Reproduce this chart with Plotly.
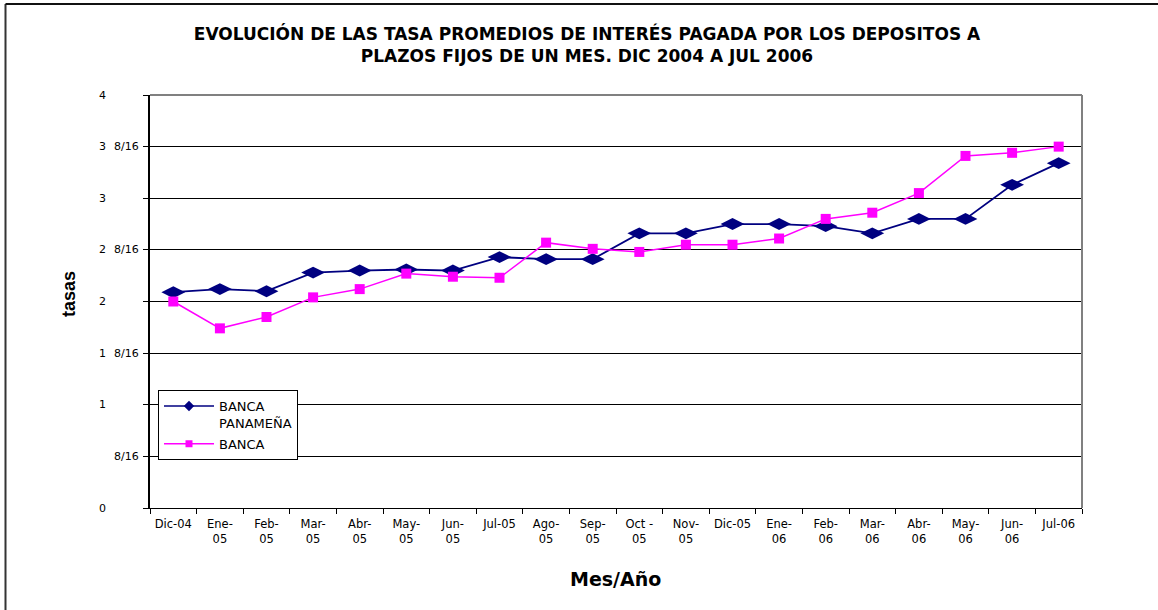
import plotly.graph_objects as go

# ---- data ----
months = ["Dic-04", "Ene-05", "Feb-05", "Mar-05", "Abr-05", "May-05", "Jun-05", "Jul-05",
          "Ago-05", "Sep-05", "Oct-05", "Nov-05", "Dic-05", "Ene-06", "Feb-06", "Mar-06",
          "Abr-06", "May-06", "Jun-06", "Jul-06"]
month_labels = ["Dic-04", "Ene-<br>05", "Feb-<br>05", "Mar-<br>05", "Abr-<br>05", "May-<br>05",
                "Jun-<br>05", "Jul-05", "Ago-<br>05", "Sep-<br>05", "Oct -<br>05", "Nov-<br>05",
                "Dic-05", "Ene-<br>06", "Feb-<br>06", "Mar-<br>06", "Abr-<br>06", "May-<br>06",
                "Jun-<br>06", "Jul-06"]
banca_panamena = [2.09, 2.12, 2.10, 2.28, 2.30, 2.31, 2.30, 2.43, 2.41, 2.41,
                  2.66, 2.66, 2.75, 2.75, 2.73, 2.66, 2.80, 2.80, 3.13, 3.34]
banca = [2.00, 1.74, 1.85, 2.04, 2.12, 2.27, 2.24, 2.23, 2.57, 2.51,
         2.48, 2.55, 2.55, 2.61, 2.80, 2.86, 3.05, 3.41, 3.44, 3.50]
series_names = ["BANCA<br>PANAMEÑA", "BANCA"]
y_tick_vals = [0, 0.5, 1, 1.5, 2, 2.5, 3, 3.5, 4]
y_tick_int = ["0", "", "1", "1", "2", "2", "3", "3", "4"]
y_tick_frac = ["", "8/16", "", "8/16", "", "8/16", "", "8/16", ""]

title_text = ("EVOLUCIÓN DE LAS TASA PROMEDIOS DE INTERÉS PAGADA POR LOS DEPOSITOS A<br>"
              "PLAZOS FIJOS DE UN MES. DIC 2004 A JUL 2006")

NAVY = "#000080"
MAGENTA = "#FF00FF"

W, H = 1158, 610
L, R, T, B = 150, 76, 95, 102
PW, PH = W - L - R, H - T - B


def px_x(p):
    return (p - L) / PW


def px_y(p):
    return (H - B - p) / PH


fig = go.Figure()
fig.add_trace(go.Scatter(x=months, y=banca_panamena, mode="lines+markers", showlegend=False,
                         line=dict(color=NAVY, width=1.8),
                         marker=dict(symbol="diamond-wide", size=17, color=NAVY)))
fig.add_trace(go.Scatter(x=months, y=banca, mode="lines+markers", showlegend=False,
                         line=dict(color=MAGENTA, width=1.5),
                         marker=dict(symbol="square", size=10, color=MAGENTA)))
# legend entries with small markers
fig.add_trace(go.Scatter(x=[None], y=[None], mode="lines+markers", name=series_names[0],
                         legendgroup="a",
                         line=dict(color=NAVY, width=1.5),
                         marker=dict(symbol="diamond", size=8, color=NAVY)))
fig.add_trace(go.Scatter(x=[None], y=[None], mode="lines+markers", name=series_names[1],
                         legendgroup="b",
                         line=dict(color=MAGENTA, width=1.5),
                         marker=dict(symbol="square", size=7, color=MAGENTA)))

annotations = []
for v, ti, tf in zip(y_tick_vals, y_tick_int, y_tick_frac):
    if ti:
        annotations.append(dict(x=px_x(97), y=v, xref="paper", yref="y", text=ti,
                                showarrow=False, xanchor="left", yanchor="middle",
                                font=dict(family="DejaVu Sans", size=11, color="black")))
    if tf:
        annotations.append(dict(x=px_x(141), y=v, xref="paper", yref="y", text=tf,
                                showarrow=False, xanchor="right", yanchor="middle",
                                font=dict(family="DejaVu Sans", size=11, color="black")))
annotations.append(dict(x=px_x(69), y=px_y(294), xref="paper", yref="paper", text="<b>tasas</b>",
                        textangle=-90, showarrow=False, xanchor="center", yanchor="middle",
                        font=dict(family="Liberation Sans, Arial", size=18, color="black")))
annotations.append(dict(x=px_x(615), y=px_y(579), xref="paper", yref="paper", text="<b>Mes/Año</b>",
                        showarrow=False, xanchor="center", yanchor="middle",
                        font=dict(family="DejaVu Sans", size=19, color="black")))

shapes = [
    # gray plot-area border (top and right)
    dict(type="line", xref="paper", yref="paper", x0=0, x1=1, y0=1, y1=1,
         line=dict(color="#808080", width=2)),
    dict(type="line", xref="paper", yref="paper", x0=1, x1=1, y0=0, y1=1,
         line=dict(color="#808080", width=2)),
    # outer chart frame (left and top)
    dict(type="line", xref="paper", yref="paper", x0=px_x(5.5), x1=px_x(5.5), y0=px_y(612), y1=px_y(4),
         line=dict(color="#333333", width=2)),
    dict(type="line", xref="paper", yref="paper", x0=px_x(5.5), x1=px_x(1160), y0=px_y(4), y1=px_y(4),
         line=dict(color="#111111", width=2)),
]

fig.update_layout(
    width=W, height=H,
    margin=dict(l=L, r=R, t=T, b=B),
    paper_bgcolor="white", plot_bgcolor="white",
    title=dict(text="<b>" + title_text + "</b>", x=587 / W, xanchor="center",
               y=1 - 40 / H, yanchor="middle",
               font=dict(family="DejaVu Sans", size=17, color="black")),
    xaxis=dict(type="category", tickmode="array", tickvals=months, ticktext=month_labels,
               tickson="boundaries", ticks="outside", ticklen=5, tickcolor="black",
               ticklabelstandoff=5, tickangle=0,
               showgrid=False, showline=True, linecolor="black", linewidth=1,
               tickfont=dict(family="DejaVu Sans", size=11.5, color="black"),
               range=[-0.5, len(months) - 0.5]),
    yaxis=dict(range=[0, 4], tickvals=y_tick_vals, showticklabels=False,
               ticks="outside", ticklen=5, tickcolor="black",
               showgrid=True, gridcolor="black", gridwidth=1, zeroline=False,
               showline=True, linecolor="black", linewidth=1.5),
    legend=dict(x=px_x(158), y=px_y(390), xanchor="left", yanchor="top",
                bgcolor="white", bordercolor="black", borderwidth=1,
                font=dict(family="DejaVu Sans", size=13, color="black"),
                traceorder="grouped", tracegroupgap=1, itemwidth=50, valign="top",
                entrywidth=95, entrywidthmode="pixels"),
    annotations=annotations,
    shapes=shapes,
)

fig.write_html("out.html", config={"displayModeBar": False},
               post_script="document.body.style.margin='0';")
